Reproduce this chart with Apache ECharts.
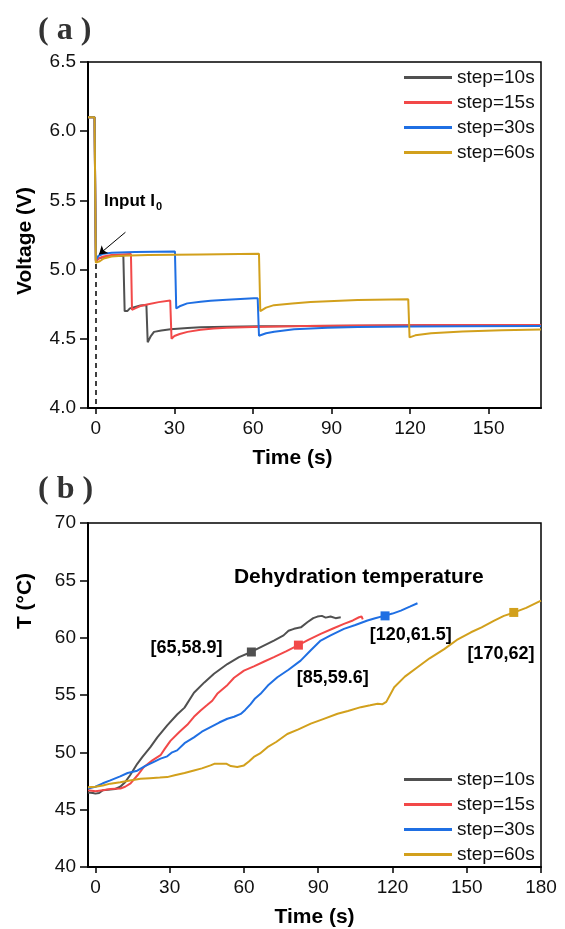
<!DOCTYPE html>
<html>
<head>
<meta charset="utf-8">
<script src="https://cdn.jsdelivr.net/npm/echarts@6/dist/echarts.min.js"></script>
<style>
html, body { margin: 0; background: #fff; }
#main { width: 565px; height: 929px; }
</style>
</head>
<body>
<div id="main"></div>
<script>
var names = ['step=10s', 'step=15s', 'step=30s', 'step=60s'];
var colors = ['#505050', '#f24848', '#1f6fe3', '#d2a01c'];

// tick labels
var timeTicksA = [0, 30, 60, 90, 120, 150];
var timeTicksB = [0, 30, 60, 90, 120, 150, 180];
var voltTicks = [4.0, 4.5, 5.0, 5.5, 6.0, 6.5];
var tempTicks = [40, 45, 50, 55, 60, 65, 70];

// (a) voltage vs time, [t, V]
var volt10 = [[-3, 6.1], [-0.5, 6.1], [0, 5.06], [1, 5.08], [3, 5.09], [6, 5.1], [10.5, 5.1], [11, 4.70], [12, 4.70],
  [13, 4.72], [15, 4.73], [17, 4.74], [19.3, 4.745], [19.8, 4.475], [21, 4.52], [22.2, 4.55], [25, 4.56], [28.5, 4.569],
  [35, 4.578], [40, 4.583], [50, 4.587], [63, 4.59], [80, 4.592], [100, 4.595], [130, 4.598], [170, 4.6]];
var volt15 = [[-3, 6.1], [-0.5, 6.1], [0, 5.06], [1, 5.08], [3, 5.095], [6, 5.105], [10, 5.11], [13.4, 5.113], [13.8, 4.71],
  [15, 4.72], [17, 4.737], [20, 4.75], [24, 4.765], [28.4, 4.776], [28.9, 4.50], [30, 4.52], [32, 4.535], [35, 4.55],
  [40, 4.565], [45, 4.575], [50, 4.58], [60, 4.586], [80, 4.592], [100, 4.596], [130, 4.6], [170, 4.6]];
var volt30 = [[-3, 6.1], [-0.5, 6.1], [0, 5.07], [1, 5.1], [3, 5.115], [6, 5.122], [15, 5.128], [30.2, 5.13], [30.7, 4.72],
  [32, 4.735], [34.9, 4.756], [40, 4.768], [43.8, 4.775], [50, 4.782], [60.4, 4.793], [61.8, 4.793], [62.3, 4.522],
  [65, 4.54], [68.1, 4.551], [75.7, 4.569], [88.4, 4.58], [100, 4.585], [120, 4.589], [140, 4.591], [170, 4.592]];
var volt60 = [[-3, 6.1], [-0.5, 6.1], [0, 5.05], [0.5, 5.04], [1.5, 5.06], [3, 5.08], [6, 5.095], [10, 5.1], [20, 5.105],
  [40, 5.11], [62.3, 5.115], [62.8, 4.70], [65, 4.725], [68, 4.743], [75, 4.755], [82, 4.766], [100, 4.78], [119.3, 4.785],
  [119.8, 4.51], [122, 4.525], [128, 4.54], [140, 4.553], [155, 4.562], [170, 4.568]];

// (b) temperature vs time, [t, T]
var temp10 = [[-3, 46.5], [-1, 46.45], [0, 46.4], [1.5, 46.45], [3, 46.7], [6, 46.75], [8, 46.8], [10, 47.0], [12, 47.4],
  [14, 48.0], [16.9, 49.0], [19, 49.6], [22.2, 50.45], [25, 51.3], [29, 52.35], [33, 53.3], [36, 53.9], [39.8, 55.2],
  [44, 56.1], [47.9, 56.85], [53.3, 57.7], [58, 58.3], [62.7, 58.73], [67, 59.2], [72.1, 59.75], [76, 60.2], [78, 60.6],
  [80.2, 60.77], [83, 60.9], [85.6, 61.34], [88, 61.7], [89.7, 61.84], [91.5, 61.9], [93, 61.75], [95, 61.85], [97, 61.7],
  [99.1, 61.78]];
var temp15 = [[-3, 46.7], [0, 46.6], [3, 46.7], [6, 46.8], [10.1, 46.85], [12, 47.0], [14.2, 47.3], [17, 48.0], [19.5, 48.7],
  [23, 49.3], [26.3, 49.75], [28, 50.3], [30.3, 51.0], [34, 51.8], [37.1, 52.4], [39.8, 53.1], [42.5, 53.65], [45, 54.1],
  [47.2, 54.5], [49.2, 55.1], [53, 55.8], [56, 56.5], [60, 57.13], [64, 57.5], [68, 57.9], [72.1, 58.3], [77, 58.8],
  [81.6, 59.3], [86, 59.8], [91, 60.33], [96, 60.8], [100.4, 61.2], [104, 61.5], [106.5, 61.78], [107.5, 61.85], [108, 61.6]];
var temp30 = [[-3, 46.85], [0, 47.0], [3, 47.3], [6, 47.55], [10, 47.9], [13, 48.2], [16.9, 48.4], [20, 48.8], [23, 49.1],
  [26.3, 49.45], [29, 49.65], [31, 50.0], [33, 50.17], [36, 50.8], [39.8, 51.3], [43, 51.8], [46.5, 52.2], [50, 52.6],
  [53.3, 52.93], [56, 53.1], [58.7, 53.35], [60.5, 53.7], [62.7, 54.2], [64.5, 54.7], [66.7, 55.1], [70, 55.9],
  [73.5, 56.55], [78, 57.2], [82.9, 58.0], [87, 58.9], [91, 59.75], [95, 60.2], [100.4, 60.77], [105, 61.1], [109.9, 61.5],
  [113, 61.7], [116.6, 61.9], [120, 62.1], [123.4, 62.36], [127, 62.7], [130.1, 63.0]];
var temp60 = [[-3, 46.95], [0, 47.0], [3, 47.1], [6, 47.27], [10, 47.4], [14, 47.55], [18.2, 47.7], [22, 47.75], [26, 47.8],
  [29, 47.84], [32, 48.0], [36, 48.2], [39.8, 48.42], [43, 48.6], [46.5, 48.86], [48, 49.0], [50.6, 49.0], [53, 49.0],
  [54.7, 48.8], [57.3, 48.72], [60, 48.86], [62, 49.2], [64, 49.6], [66.5, 49.9], [69.5, 50.45], [73, 50.9], [77.5, 51.6],
  [82, 52.0], [87, 52.5], [92, 52.9], [97.8, 53.36], [102, 53.6], [107.2, 53.94], [111, 54.1], [114, 54.23], [116, 54.2],
  [117.5, 54.4], [120.7, 55.68], [125, 56.6], [130.1, 57.42], [135, 58.2], [140.9, 59.0], [146, 59.8], [151.7, 60.47],
  [156, 60.9], [161.1, 61.49], [165, 61.9], [169.2, 62.2], [174, 62.6], [180, 63.23]];

// highlighted points and their labels in (b)
var markTime = [63, 82, 117, 169];
var markTemp = [58.75, 59.35, 61.9, 62.2];
var markText = ['[65,58.9]', '[85,59.6]', '[120,61.5]', '[170,62]'];
var markTextAt = [[36.8, 59.1], [95.9, 56.5], [127.4, 60.25], [163.8, 58.6]];

var font = 'Liberation Sans, Arial, sans-serif';
var chart = echarts.init(document.getElementById('main'));

function lineSeries(data, i, ax) {
  return {
    name: names[i], type: 'line', xAxisIndex: ax, yAxisIndex: ax,
    data: data, symbol: 'none', showSymbol: false,
    lineStyle: { width: 2, color: colors[i] }, itemStyle: { color: colors[i] },
    animation: false
  };
}

function timeAxis(idx, ticks, min, max) {
  return {
    type: 'value', gridIndex: idx, min: min, max: max,
    name: 'Time (s)', nameLocation: 'middle', nameGap: 40,
    nameTextStyle: { fontFamily: font, fontWeight: 'bold', fontSize: 21, color: '#000',
      padding: idx === 0 ? [0, 44, 0, 0] : 0 },
    axisLine: { onZero: false, lineStyle: { color: '#000', width: 2 } },
    axisTick: { customValues: ticks, length: 6, lineStyle: { color: '#000', width: 1.5 } },
    axisLabel: { customValues: ticks, fontFamily: font, fontSize: 19, color: '#111', margin: 11 },
    splitLine: { show: false }
  };
}

function valueAxis(idx, ticks, nm, pad, digits) {
  return {
    type: 'value', gridIndex: idx, min: ticks[0], max: ticks[ticks.length - 1],
    interval: ticks[1] - ticks[0],
    name: nm, nameLocation: 'middle', nameGap: 52,
    nameTextStyle: { fontFamily: font, fontWeight: 'bold', fontSize: 21, color: '#000', padding: pad },
    axisLine: { onZero: false, lineStyle: { color: '#000', width: 2 } },
    axisTick: { length: 8, lineStyle: { color: '#000', width: 1.5 } },
    axisLabel: { fontFamily: font, fontSize: 19, color: '#111', margin: 12,
      formatter: function (v) { return v.toFixed(digits); } },
    splitLine: { show: false }
  };
}

function noteStyle(size) {
  return { show: true, position: 'inside', fontFamily: font, fontWeight: 'bold', fontSize: size, color: '#000',
    formatter: function (p) { return p.name; } };
}

var hidden = { color: 'rgba(0,0,0,0)', opacity: 1 };

var series = [
  lineSeries(volt10, 0, 0), lineSeries(volt15, 1, 0), lineSeries(volt30, 2, 0), lineSeries(volt60, 3, 0),
  lineSeries(temp10, 0, 1), lineSeries(temp15, 1, 1), lineSeries(temp30, 2, 1), lineSeries(temp60, 3, 1)
];

// arrow and dashed guide for the current input
series[0].markLine = {
  silent: true, animation: false, label: { show: false },
  symbol: ['none', 'arrow'], symbolSize: 8,
  lineStyle: { color: '#000', width: 1, type: 'solid' },
  data: [[{ coord: [11.3, 5.27] }, { coord: [1.2, 5.11] }]]
};
series[1].markLine = {
  silent: true, animation: false, label: { show: false },
  symbol: ['none', 'none'],
  lineStyle: { color: '#000', width: 1.5, type: [5, 4] },
  data: [[{ coord: [0, 5.04] }, { coord: [0, 4.0] }]]
};

series.push({
  type: 'scatter', xAxisIndex: 0, yAxisIndex: 0, symbolSize: 1, silent: true, animation: false,
  itemStyle: hidden,
  label: {
    show: true, position: 'right', distance: 0,
    formatter: '{b|Input I}{s|0}',
    rich: {
      b: { fontFamily: font, fontWeight: 'bold', fontSize: 17, color: '#000' },
      s: { fontFamily: font, fontWeight: 'bold', fontSize: 11, color: '#000', padding: [10, 0, 0, 1] }
    }
  },
  data: [{ name: 'Input', value: [2.9, 5.49] }]
});

series.push({
  type: 'scatter', xAxisIndex: 1, yAxisIndex: 1, symbol: 'rect', symbolSize: 9, silent: true, animation: false, z: 4,
  data: markTime.map(function (t, i) {
    return { value: [t, markTemp[i]], itemStyle: { color: colors[i], opacity: 1 } };
  })
});

series.push({
  type: 'scatter', xAxisIndex: 1, yAxisIndex: 1, symbolSize: 1, silent: true, animation: false,
  itemStyle: hidden,
  label: noteStyle(18),
  data: markText.map(function (s, i) { return { name: s, value: markTextAt[i] }; })
});

series.push({
  type: 'scatter', xAxisIndex: 1, yAxisIndex: 1, symbolSize: 1, silent: true, animation: false,
  itemStyle: hidden,
  label: noteStyle(21),
  data: [{ name: 'Dehydration temperature', value: [106.4, 65.3] }]
});

function legendAt(top) {
  return {
    data: names, orient: 'vertical', left: 399, top: top,
    icon: 'rect', itemWidth: 48, itemHeight: 3, itemGap: 6, selectedMode: false,
    textStyle: { fontFamily: font, fontSize: 19, color: '#111', lineHeight: 19 }
  };
}

chart.setOption({
  backgroundColor: '#fff',
  animation: false,
  title: [
    { text: '( a )', left: 38, top: 15, padding: 0,
      textStyle: { fontFamily: 'Liberation Serif, Times New Roman, serif', fontWeight: 'bold', fontSize: 32, color: '#333' } },
    { text: '( b )', left: 38, top: 474, padding: 0,
      textStyle: { fontFamily: 'Liberation Serif, Times New Roman, serif', fontWeight: 'bold', fontSize: 32, color: '#333' } }
  ],
  legend: [legendAt(63), legendAt(765)],
  grid: [
    { left: 88, top: 62, right: 24, height: 346, show: true, borderColor: '#000', borderWidth: 1.5 },
    { left: 88, top: 523, right: 24, height: 344, show: true, borderColor: '#000', borderWidth: 1.5 }
  ],
  xAxis: [
    timeAxis(0, timeTicksA, -3, 170),
    timeAxis(1, timeTicksB, -3, 180)
  ],
  yAxis: [
    valueAxis(0, voltTicks, 'Voltage (V)', [0, 12, 0, 0], 1),
    valueAxis(1, tempTicks, 'T (\u00b0C)', [0, 0, 0, 188], 0)
  ],
  series: series
});
</script>
</body>
</html>
